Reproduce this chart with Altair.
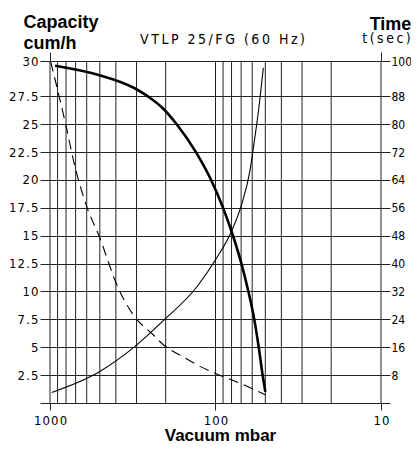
import json
import altair as alt
import pandas as pd

# ---------------- data ----------------
# thick solid curve: capacity (cum/h) vs vacuum (mbar)
thick_vac = [932, 508, 310, 254.7, 209, 171.6, 131.3, 106.3, 90, 78.4, 69.7, 63.3, 58.3, 54.8, 51.9, 50]
thick_cap = [30.25, 29.42, 28.25, 27.47, 26.46, 25.0, 22.5, 20.0, 17.5, 15.0, 12.5, 10.0, 7.5, 5.0, 2.5, 1.0]

# dashed curve (capacity scale)
dash_vac = [990, 810, 703, 596, 506, 387, 309, 238, 209, 152.6, 129.5, 100, 69.2, 50]
dash_cap = [30.6, 25.2, 21.06, 17.5, 15.0, 10.3, 7.76, 6.12, 5.29, 4.03, 3.43, 2.65, 1.70, 0.74]

# thin solid curve: pump-down time t (sec) vs vacuum (mbar)
time_vac = [976, 506, 309, 209, 129.5, 100, 79.5, 69.2, 61.8, 58.7, 55.0, 51.4]
time_sec = [3.04, 8.9, 16.1, 23.4, 33.35, 41.1, 49.6, 57.3, 66.9, 74.1, 83.8, 96.2]

# grid / ticks
grid_vac = [1000, 900, 800, 700, 600, 500, 400, 300, 200,
            100, 90, 80, 70, 60, 50, 40, 30, 20, 10]
x_tick_vals = [1000, 100, 10]
x_tick_labels = ["1000", "100", "10"]
top_tick_vals = [1000, 10]
top_tick_labels = ["", "t(sec)"]

CAP_TOP = 30.67           # top grid line (labelled 30 / 100)
cap_tick_vals = [0, 2.5, 5, 7.5, 10, 12.5, 15, 17.5, 20, 22.5, 25, 27.5, CAP_TOP]
cap_tick_labels = ["", "2.5", "5", "7.5", "10", "12.5", "15", "17.5", "20",
                   "22.5", "25", "27.5", "30"]
TIME_TOP = CAP_TOP * 3.2
time_tick_vals = [0, 8, 16, 24, 32, 40, 48, 56, 64, 72, 80, 88, TIME_TOP]
time_tick_labels = ["", "8", "16", "24", "32", "40", "48", "56", "64",
                    "72", "80", "88", "100"]

TITLE = "VTLP 25/FG (60 Hz)"

# ---------------- styling helpers ----------------
NARROW = "DejaVu Sans Condensed, Liberation Sans Narrow, sans-serif"
BOLD = "Liberation Sans, Arial, sans-serif"
THIN = "\u2009"
HAIR = "\u200a"
GRID = "#222222"


def spaced(s, sep):
    return sep.join(list(s))


def label_expr(vals, labels, sep):
    return "%s[indexof(%s, datum.value)]" % (
        json.dumps([spaced(l, sep) for l in labels]), json.dumps(vals))


thick_df = pd.DataFrame({"v": thick_vac, "c": thick_cap})
dash_df = pd.DataFrame({"v": dash_vac, "c": dash_cap})
time_df = pd.DataFrame({"v": time_vac, "t": time_sec})
grid_df = pd.DataFrame({"v": grid_vac})

xscale = alt.Scale(type="log", domain=[10, 1000], reverse=True, nice=False)
cap_scale = alt.Scale(domain=[0, CAP_TOP], nice=False, zero=True)
time_scale = alt.Scale(domain=[0, TIME_TOP], nice=False, zero=True)

top_axis = alt.Axis(
    orient="top", values=top_tick_vals, grid=False, domain=False,
    tickSize=9, tickColor=GRID, tickWidth=1,
    labelExpr=label_expr(top_tick_vals, top_tick_labels, THIN),
    labelFont=NARROW, labelFontSize=14, labelColor="black",
    labelBaseline="alphabetic", labelPadding=10, labelOffset=5,
    labelFlush=False, labelOverlap=False,
    title=spaced(TITLE, THIN), titleFont=NARROW, titleFontSize=14,
    titleFontWeight="normal", titleColor="black",
    titleAlign="center", titleBaseline="alphabetic", titleX=172, titleY=-18,
)

bottom_axis = alt.Axis(
    orient="bottom", values=x_tick_vals, grid=False, domain=False,
    tickSize=7, tickColor=GRID, tickWidth=1,
    labelExpr=label_expr(x_tick_vals, x_tick_labels, HAIR),
    labelFont=NARROW, labelFontSize=13, labelColor="black",
    labelPadding=4, labelFlush=False, labelOverlap=False,
    title="Vacuum mbar", titleFont=BOLD, titleFontSize=17,
    titleFontWeight="bold", titleColor="black",
    titleAlign="center", titleBaseline="alphabetic", titleX=170, titleY=37,
)

left_axis = alt.Axis(
    orient="left", values=cap_tick_vals, grid=True, gridColor=GRID,
    gridWidth=1, gridOpacity=1, domain=False,
    tickSize=10, tickColor=GRID, tickWidth=1,
    labelExpr=label_expr(cap_tick_vals, cap_tick_labels, HAIR),
    labelFont=NARROW, labelFontSize=13, labelColor="black",
    labelPadding=2, labelFlush=False, labelOverlap=False,
    title=["Capacity", "cum/h"], titleFont=BOLD, titleFontSize=18,
    titleFontWeight="bold", titleColor="black", titleAngle=0,
    titleAlign="left", titleBaseline="alphabetic", titleX=-27, titleY=-34,
    titleLineHeight=21,
)

right_axis = alt.Axis(
    orient="right", values=time_tick_vals, grid=False, domain=False,
    tickSize=9, tickColor=GRID, tickWidth=1,
    labelExpr=label_expr(time_tick_vals, time_tick_labels, ""),
    labelFont=NARROW, labelFontSize=12, labelColor="black",
    labelPadding=1, labelFlush=False, labelOverlap=False,
    title="Time", titleFont=BOLD, titleFontSize=18,
    titleFontWeight="bold", titleColor="black", titleAngle=0,
    titleAlign="center", titleBaseline="alphabetic", titleX=9, titleY=-32,
)

grid = alt.Chart(grid_df).mark_rule(color=GRID, strokeWidth=1).encode(
    x=alt.X("v:Q", scale=xscale, axis=top_axis)
)

thick = alt.Chart(thick_df).mark_line(
    color="black", strokeWidth=2.6, interpolate="monotone"
).encode(
    x=alt.X("v:Q", scale=xscale, axis=bottom_axis),
    y=alt.Y("c:Q", scale=cap_scale, axis=left_axis),
)

dashed = alt.Chart(dash_df).mark_line(
    color="black", strokeWidth=1.1, strokeDash=[10, 6], interpolate="monotone"
).encode(
    x=alt.X("v:Q", scale=xscale, axis=None),
    y=alt.Y("c:Q", scale=cap_scale, axis=None),
)

thin = alt.Chart(time_df).mark_line(
    color="black", strokeWidth=1.1, interpolate="monotone"
).encode(
    x=alt.X("v:Q", scale=xscale, axis=None),
    y=alt.Y("t:Q", scale=time_scale, axis=right_axis),
)

chart = alt.layer(grid, thick, dashed, thin).resolve_scale(
    y="independent"
).properties(
    width=331, height=342, autosize="none",
    padding={"left": 42, "top": 53, "right": 30, "bottom": 41},
    background="white",
).configure_view(strokeWidth=0)

chart.save("out.html", embed_options={"renderer": "svg", "actions": False})
